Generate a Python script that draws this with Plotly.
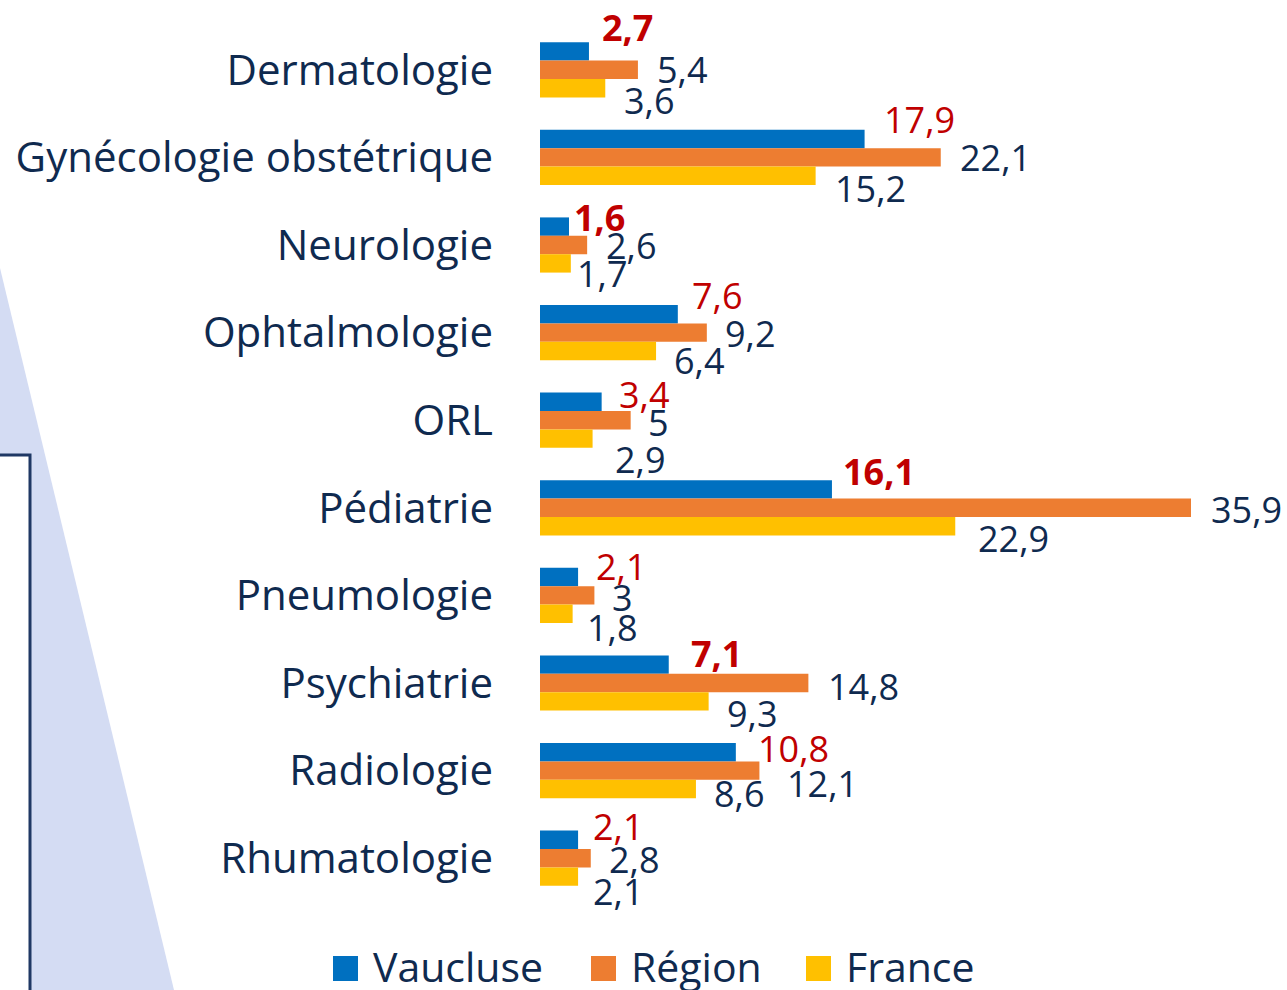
import plotly.graph_objects as go

categories = ["Dermatologie", "Gynécologie obstétrique", "Neurologie", "Ophtalmologie", "ORL",
              "Pédiatrie", "Pneumologie", "Psychiatrie", "Radiologie", "Rhumatologie"]
vaucluse = [2.7, 17.9, 1.6, 7.6, 3.4, 16.1, 2.1, 7.1, 10.8, 2.1]
region = [5.4, 22.1, 2.6, 9.2, 5, 35.9, 3, 14.8, 12.1, 2.8]
france = [3.6, 15.2, 1.7, 6.4, 2.9, 22.9, 1.8, 9.3, 8.6, 2.1]
vaucluse_bold = [True, False, True, False, False, True, False, True, False, False]
series_names = ["Vaucluse", "Région", "France"]

# label nudges in pixels (dx right, dy down from category centre)
dx_v = [11, 17, 3, 12, 15, 9, 16, 20, 20, 13]
dy_v = [-42, -38, -28, -37, -26, -36, -29, -30, -22, -32]
dx_r = [17, 17, 17, 16, 15, 18, 16, 18, 26, 16]
dy_r = [0, 0, 0, 1, 2, 2, 2, 3, 13, 1]
dx_f = [17, 17, 4, 16, 20, 21, 12, 16, 16, 13]
dy_f = [31, 31, 28, 28, 39, 31, 32, 30, 23, 33]

BLUE, ORANGE, YELLOW = "#0070C0", "#ED7D31", "#FFC000"
RED, NAVY = "#C00000", "#0F2A4F"
FONT = "Open Sans"

W, H = 1287, 990
ML, MR, MT, MB = 540, 96, 26, 88

fig = go.Figure()
for name, vals, col in zip(series_names, [vaucluse, region, france], [BLUE, ORANGE, YELLOW]):
    fig.add_trace(go.Bar(y=categories, x=vals, orientation="h", marker=dict(color=col, line=dict(width=0)),
                         name=name, showlegend=False, hoverinfo="x+y"))

def fmt(v):
    return f"{v:g}".replace(".", ",")

ann = []
for i, c in enumerate(categories):
    b = vaucluse_bold[i]
    ann.append(dict(x=vaucluse[i], y=c, xref="x", yref="y", xanchor="left", yanchor="middle",
                    text=("<b>%s</b>" % fmt(vaucluse[i])) if b else fmt(vaucluse[i]),
                    showarrow=False, xshift=dx_v[i], yshift=-dy_v[i],
                    font=dict(family=FONT, size=36, color=RED)))
    ann.append(dict(x=region[i], y=c, xref="x", yref="y", xanchor="left", yanchor="middle",
                    text=fmt(region[i]), showarrow=False, xshift=dx_r[i], yshift=-dy_r[i],
                    font=dict(family=FONT, size=36, color=NAVY)))
    ann.append(dict(x=france[i], y=c, xref="x", yref="y", xanchor="left", yanchor="middle",
                    text=fmt(france[i]), showarrow=False, xshift=dx_f[i], yshift=-dy_f[i],
                    font=dict(family=FONT, size=36, color=NAVY)))

pw = W - ML - MR
ph = H - MT - MB
def px(xp):
    return (xp - ML) / pw
def py(yp):
    return (H - MB - yp) / ph

shapes = [
    dict(type="path", xref="paper", yref="paper", layer="below",
         path=f"M {px(0)},{py(268)} L {px(174)},{py(990)} L {px(0)},{py(990)} Z",
         fillcolor="#D4DCF3", line=dict(width=0)),
    dict(type="rect", xref="paper", yref="paper", layer="below",
         x0=px(-20), y0=py(1010), x1=px(30), y1=py(455),
         fillcolor="white", line=dict(color="#1F3864", width=3)),
]

# manual legend (squares + labels)
legend_sq_x = [333, 591, 806]
for name, col, lx in zip(series_names, [BLUE, ORANGE, YELLOW], legend_sq_x):
    shapes.append(dict(type="rect", xref="paper", yref="paper",
                       x0=px(lx), x1=px(lx + 25), y0=py(981), y1=py(956),
                       fillcolor=col, line=dict(width=0)))
    ann.append(dict(x=px(lx + 38), y=py(966), xref="paper", yref="paper", xanchor="left", yanchor="middle",
                    text=name, showarrow=False, font=dict(family=FONT, size=41, color=NAVY)))

n = len(categories)
fig.update_layout(
    width=W, height=H,
    margin=dict(l=ML, r=MR, t=MT, b=MB, autoexpand=False),
    paper_bgcolor="white", plot_bgcolor="rgba(0,0,0,0)",
    barmode="group", bargap=0.37, bargroupgap=0,
    font=dict(family=FONT, color=NAVY),
    showlegend=False,
    xaxis=dict(range=[0, 35.9], visible=False, showgrid=False, zeroline=False),
    yaxis=dict(range=[n - 0.5, -0.5], autorange=False, showgrid=False, zeroline=False, showline=False,
               ticks="", tickfont=dict(family=FONT, size=42, color=NAVY), ticklabelstandoff=46,
               automargin=False),
    annotations=ann, shapes=shapes,
)

fig.write_html("out.html", config={"displayModeBar": False},
               post_script="document.body.style.margin='0px';document.body.style.overflow='hidden';")
